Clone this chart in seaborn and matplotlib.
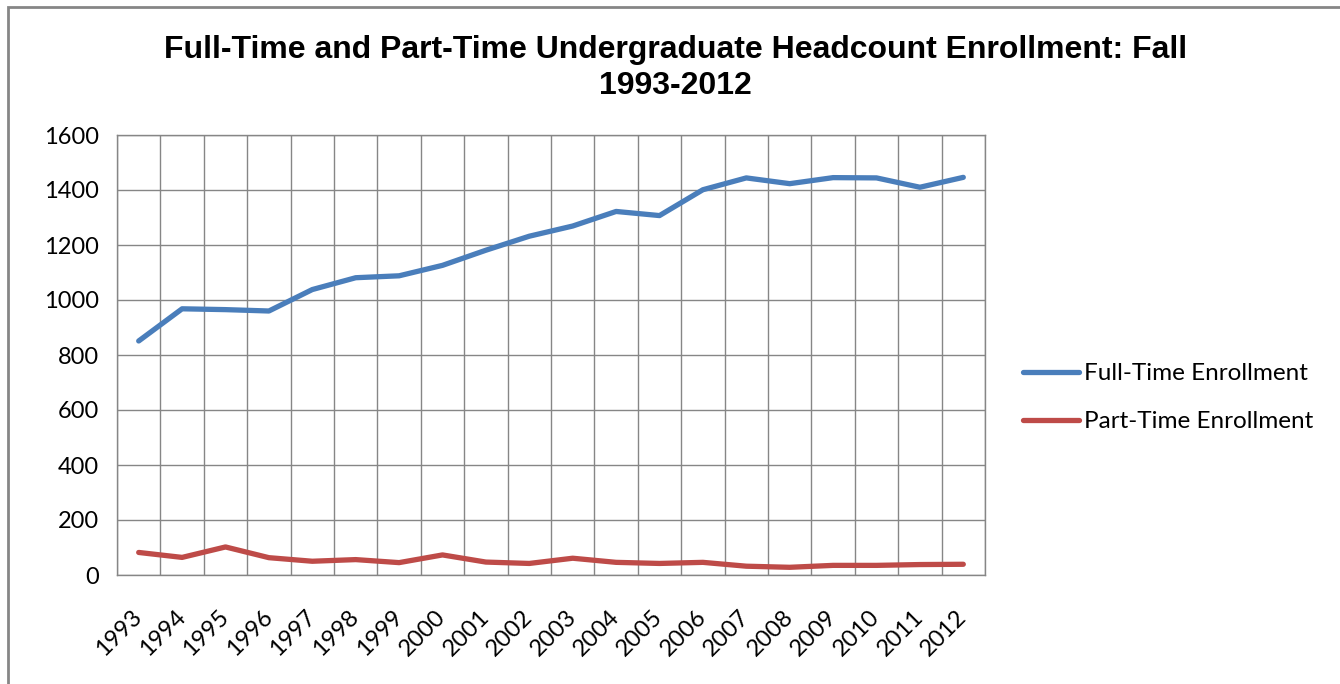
import pandas as pd
import seaborn as sns
import matplotlib.pyplot as plt
from matplotlib.patches import Rectangle
from matplotlib.ticker import FixedLocator

# données
years = [str(y) for y in range(1993, 2013)]
full_time = [851, 968, 965, 960, 1038, 1081, 1088, 1126, 1181, 1232,
             1269, 1322, 1307, 1401, 1444, 1423, 1445, 1444, 1410, 1446]
part_time = [82, 64, 102, 63, 50, 56, 45, 73, 47, 42,
             61, 46, 42, 46, 32, 28, 35, 35, 38, 39]
series = ['Full-Time Enrollment', 'Part-Time Enrollment']
colors = ['#4A7EBB', '#BE4B48']

df = pd.DataFrame({
    'Année': list(range(len(years))) * 2,
    'Effectif': full_time + part_time,
    'Série': [series[0]] * len(years) + [series[1]] * len(years),
})

sns.set_style("white")
plt.rcParams['font.family'] = ['Lato', 'DejaVu Sans']
plt.rcParams['text.color'] = 'black'
plt.rcParams['xtick.labelcolor'] = 'black'
plt.rcParams['ytick.labelcolor'] = 'black'

fig = plt.figure(figsize=(13.4, 6.84), dpi=100)
ax = fig.add_axes([117 / 1340, 109 / 684, 868 / 1340, 440 / 684])

sns.lineplot(data=df, x='Année', y='Effectif', hue='Série', palette=colors,
             linewidth=3.8, ax=ax, legend=True, solid_capstyle='round')

grid_col = '#868686'
ax.set_xlim(-0.5, len(years) - 0.5)
ax.set_ylim(0, 1600)
ax.set_yticks(range(0, 1601, 200))
ax.set_xticks(range(len(years)))
ax.set_xticklabels(years, rotation=45, ha='right', va='center',
                   rotation_mode='anchor')
ax.xaxis.set_minor_locator(FixedLocator([i - 0.5 for i in range(len(years) + 1)]))
ax.tick_params(axis='x', which='major', length=0, pad=28, labelsize=17)
ax.tick_params(axis='x', which='minor', length=8, width=1, color=grid_col,
               direction='out')
ax.tick_params(axis='y', length=8, width=1, color=grid_col, direction='out',
               labelsize=17, pad=5)
ax.grid(True, axis='y', which='major', color=grid_col, linewidth=1)
ax.grid(True, axis='x', which='minor', color=grid_col, linewidth=1)
ax.grid(False, axis='x', which='major')
for s in ax.spines.values():
    s.set_color(grid_col)
    s.set_linewidth(1)
ax.set_xlabel('')
ax.set_ylabel('')

leg = ax.legend(loc='center left', bbox_to_anchor=(1.044, 0.403), frameon=False,
                fontsize=17.5, handlelength=2.3, handletextpad=0.2,
                labelspacing=1.1, borderpad=0, borderaxespad=0)
for line in leg.get_lines():
    line.set_linewidth(3.8)

fig.text(0.504, (684 - 68) / 684, "Full-Time and Part-Time Undergraduate Headcount Enrollment: Fall\n1993-2012",
         ha='center', va='center', fontsize=23, fontweight='bold',
         family='Liberation Sans', linespacing=1.3)

# cadre du graphique
fig.patches.append(Rectangle((8 / 1340, -0.1), 1.2, 0.1 + (684 - 7) / 684,
                             transform=fig.transFigure, fill=False,
                             edgecolor=grid_col, linewidth=2))

fig.savefig('out.png', dpi=100)
